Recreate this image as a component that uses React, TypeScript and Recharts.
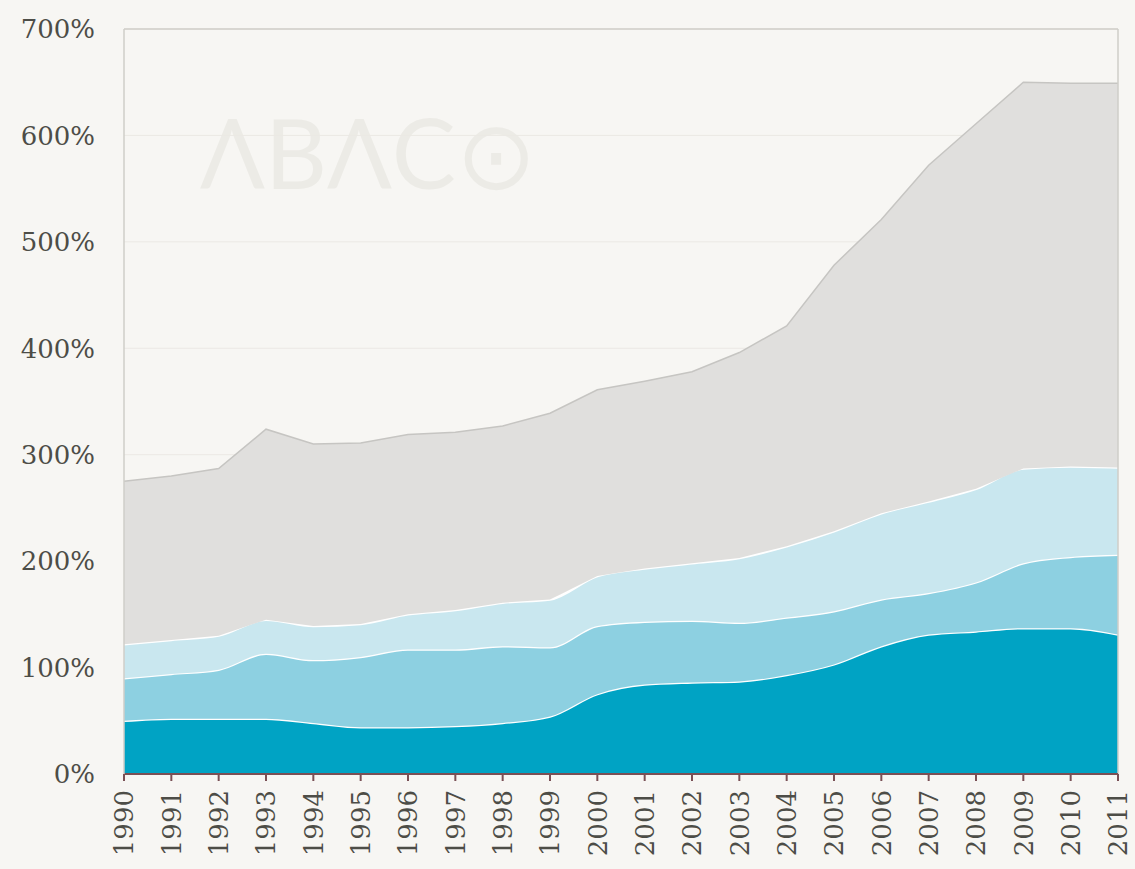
import { Area, AreaChart, CartesianGrid, ReferenceLine, XAxis, YAxis } from 'recharts';

const years = [
  '1990', '1991', '1992', '1993', '1994', '1995', '1996', '1997', '1998', '1999', '2000',
  '2001', '2002', '2003', '2004', '2005', '2006', '2007', '2008', '2009', '2010', '2011',
];

// stacked layers, bottom to top (percent)
const layerA = [50, 52, 52, 52, 48, 44, 44, 45, 48, 54, 75, 84, 86, 87, 93, 103, 120, 131, 134, 137, 137, 131];
const layerB = [40, 42, 46, 61, 59, 66, 73, 72, 72, 65, 64, 59, 58, 55, 54, 50, 44, 39, 46, 61, 67, 75];
const layerC = [32, 32, 32, 32, 32, 31, 33, 37, 41, 45, 47, 50, 54, 61, 67, 75, 81, 86, 88, 89, 85, 82];
const layerD = [153, 154, 157, 179, 171, 170, 169, 167, 166, 175, 175, 176, 180, 193, 207, 250, 276, 316, 343, 363, 360, 361];

const yTicks = [0, 100, 200, 300, 400, 500, 600, 700];

const COLORS = {
  bg: '#f7f6f3',
  dark: '#00a3c4',
  mid: '#8dd0e1',
  light: '#c9e7ef',
  gray: '#e0dfdd',
  grayStroke: '#c6c5c2',
  grid: '#ebe9e4',
  frame: '#cfcec9',
  axis: '#7a5055',
  text: '#4d4d47',
  watermark: '#ecebe6',
};

const data = years.map((year, i) => ({
  year,
  a: layerA[i],
  b: layerB[i],
  c: layerC[i],
  d: layerD[i],
}));

const serif = '"DejaVu Serif", "Liberation Serif", serif';

function YearTick(props: any) {
  const { x, y, payload } = props;
  return (
    <g transform={`translate(${x},${y})`}>
      <text
        transform="rotate(-90)"
        x={-7}
        y={0}
        dy="0.36em"
        textAnchor="end"
        fill={COLORS.text}
        fontFamily={serif}
        fontSize={26}
      >
        {payload.value}
      </text>
    </g>
  );
}

export default function App() {
  return (
    <div
      style={{
        position: 'absolute',
        left: 0,
        top: 0,
        width: 1135,
        height: 869,
        background: COLORS.bg,
        overflow: 'hidden',
      }}
    >
      <div
        style={{
          position: 'absolute',
          left: 200,
          top: 104,
          fontFamily: 'Lato, "DejaVu Sans", sans-serif',
          fontWeight: 400,
          fontSize: 96,
          letterSpacing: 0,
          color: COLORS.watermark,
          lineHeight: 1,
        }}
      >
        ΛBΛC⊙
      </div>
      <div style={{ position: 'absolute', left: 0, top: 0 }}>
        <AreaChart width={1135} height={869} data={data} margin={{ top: 29, right: 17, left: 0, bottom: 0 }}>
          <CartesianGrid stroke={COLORS.grid} vertical={false} />
          <XAxis
            dataKey="year"
            interval={0}
            height={95}
            tick={<YearTick />}
            tickSize={7}
            tickMargin={2}
            stroke={COLORS.axis}
            axisLine={{ stroke: COLORS.axis, strokeWidth: 2 }}
            tickLine={{ stroke: COLORS.axis, strokeWidth: 2 }}
          />
          <YAxis
            domain={[0, 700]}
            ticks={yTicks}
            width={124}
            tickSize={0}
            tickMargin={29}
            tickFormatter={(v: number) => `${v}%`}
            tick={{ fill: COLORS.text, fontFamily: serif, fontSize: 26 }}
            axisLine={{ stroke: COLORS.frame, strokeWidth: 1.5 }}
            tickLine={false}
          />
          <ReferenceLine y={700} stroke={COLORS.frame} strokeWidth={1.5} />
          <ReferenceLine x="2011" stroke={COLORS.frame} strokeWidth={1.5} />
          <Area
            type="monotone"
            dataKey="a"
            stackId="s"
            fill={COLORS.dark}
            fillOpacity={1}
            stroke="#ffffff"
            strokeWidth={2.5}
            isAnimationActive={false}
          />
          <Area
            type="monotone"
            dataKey="b"
            stackId="s"
            fill={COLORS.mid}
            fillOpacity={1}
            stroke="#ffffff"
            strokeWidth={2.5}
            isAnimationActive={false}
          />
          <Area
            type="monotone"
            dataKey="c"
            stackId="s"
            fill={COLORS.light}
            fillOpacity={1}
            stroke="#ffffff"
            strokeWidth={2.5}
            isAnimationActive={false}
          />
          <Area
            type="linear"
            dataKey="d"
            stackId="s"
            fill={COLORS.gray}
            fillOpacity={1}
            stroke={COLORS.grayStroke}
            strokeWidth={1.5}
            isAnimationActive={false}
          />
        </AreaChart>
      </div>
    </div>
  );
}
